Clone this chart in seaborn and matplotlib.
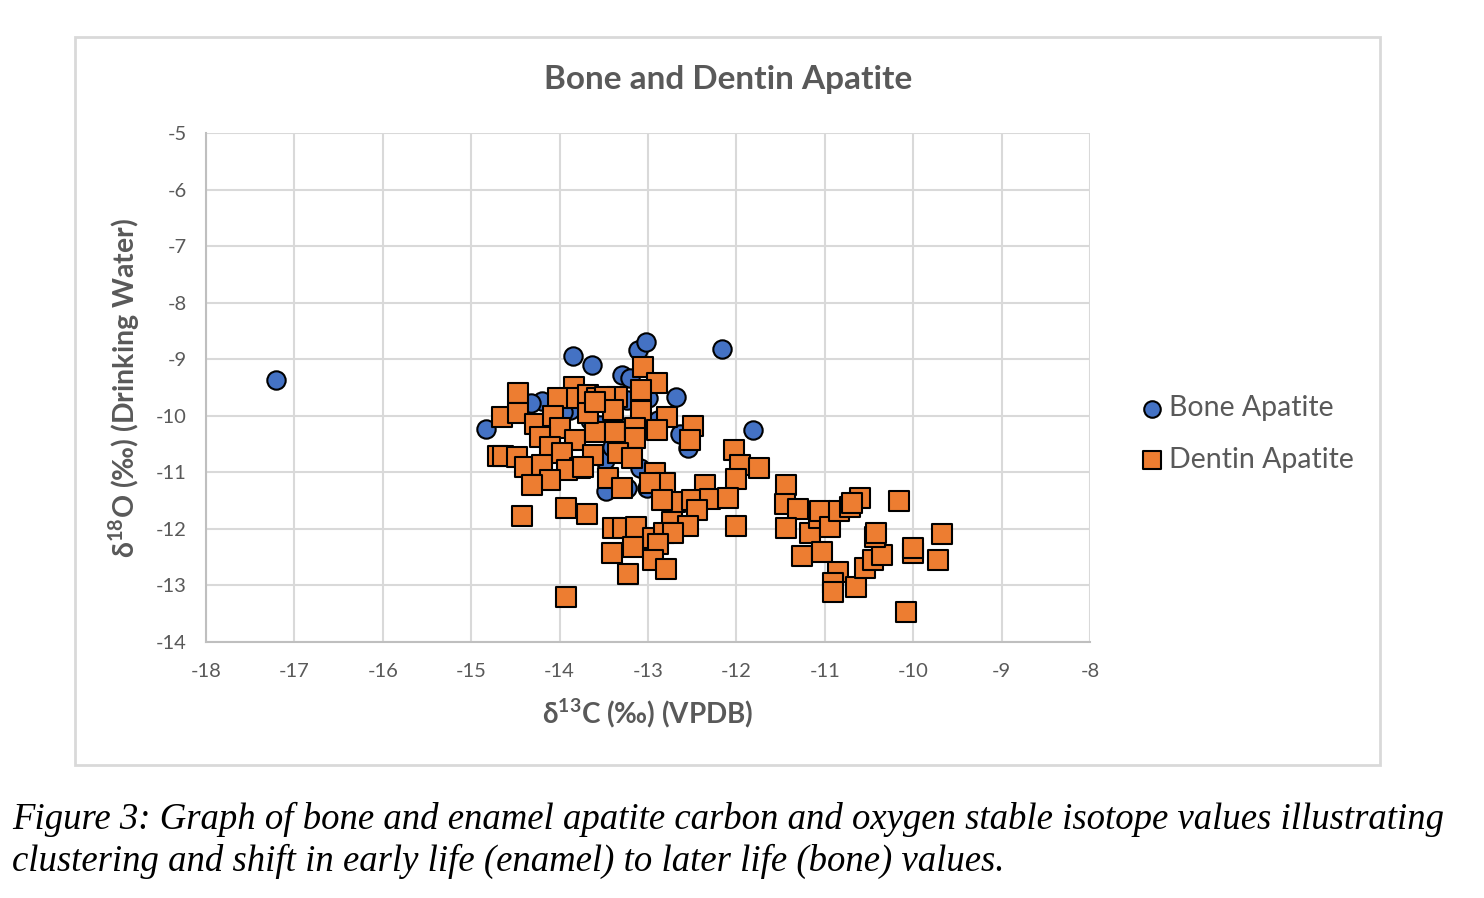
import numpy as np
import pandas as pd
import matplotlib
matplotlib.use("Agg")
import matplotlib.pyplot as plt
import seaborn as sns
from matplotlib.patches import Rectangle

"""Data read off the chart"""
bone_c = [-17.21, -14.83, -14.20, -14.32, -13.85, -13.63, -13.29, -13.20, -13.11, -13.02,
          -12.16, -12.68, -11.81, -12.64, -12.55, -13.49, -13.41, -13.09, -13.01, -13.48,
          -13.24, -13.00, -13.24, -13.88, -13.96, -13.66, -13.54, -12.89]
bone_o = [-9.37, -10.23, -9.74, -9.77, -8.94, -9.10, -9.28, -9.33, -8.84, -8.70,
          -8.82, -9.67, -10.25, -10.32, -10.57, -10.78, -10.55, -10.92, -11.28, -11.33,
          -11.28, -9.69, -9.72, -9.90, -9.93, -10.07, -10.16, -10.07]

dentin_c = [-13.06, -12.90, -13.08, -14.47, -13.84, -14.02, -13.80, -13.68, -13.58, -13.35,
            -13.49, -14.65, -14.47, -14.28, -14.07, -14.00, -13.83, -13.60, -13.37, -13.68,
            -13.40, -13.08, -12.79, -13.15, -12.90, -13.15, -12.49, -12.53, -14.22, -14.11,
            -14.70, -14.64, -14.48, -14.39, -14.20, -13.97, -13.62, -13.34, -13.18, -13.77,
            -13.92, -14.11, -14.31, -13.45, -13.29, -12.92, -12.81, -12.98, -12.36, -12.03,
            -11.96, -11.74, -12.00, -12.69, -12.84, -12.50, -12.30, -12.10, -12.45, -12.73,
            -12.55, -12.00, -13.40, -13.28, -13.14, -12.94, -12.82, -12.72, -13.41, -13.17,
            -12.89, -12.94, -12.80, -13.23, -13.93, -13.69, -14.43, -13.93, -13.60, -13.74,
            -11.44, -11.45, -11.30, -11.44, -11.26, -11.17, -11.07, -11.05, -10.94, -10.84,
            -10.72, -10.60, -10.69, -10.16, -11.03, -10.85, -10.91, -10.91, -10.65, -10.55,
            -10.45, -10.35, -10.43, -10.42, -10.00, -10.00, -9.72, -9.67, -10.08]
dentin_o = [-9.14, -9.42, -9.54, -9.60, -9.49, -9.69, -9.69, -9.63, -9.69, -9.67,
            -9.67, -10.02, -9.95, -10.15, -10.00, -10.22, -10.43, -10.29, -10.29, -9.95,
            -9.90, -9.92, -10.02, -10.22, -10.25, -10.39, -10.18, -10.43, -10.37, -10.55,
            -10.71, -10.71, -10.73, -10.91, -10.87, -10.66, -10.69, -10.66, -10.75, -10.92,
            -10.96, -11.14, -11.22, -11.10, -11.28, -11.01, -11.19, -11.19, -11.22, -10.60,
            -10.87, -10.92, -11.12, -11.52, -11.49, -11.49, -11.47, -11.45, -11.67, -11.88,
            -11.95, -11.95, -11.98, -11.98, -11.97, -12.16, -12.07, -12.07, -12.43, -12.32,
            -12.27, -12.55, -12.71, -12.80, -11.63, -11.74, -11.77, -13.20, -9.76, -10.91,
            -11.22, -11.56, -11.65, -11.98, -12.48, -12.07, -11.81, -11.68, -11.97, -11.68,
            -11.61, -11.45, -11.54, -11.51, -12.41, -12.76, -12.96, -13.12, -13.03, -12.69,
            -12.55, -12.46, -12.14, -12.07, -12.43, -12.34, -12.55, -12.09, -13.47]

x_ticks = list(range(-18, -7))
y_ticks = list(range(-14, -4))

bone = pd.DataFrame({'d13C': bone_c, 'd18O': bone_o})
dentin = pd.DataFrame({'d13C': dentin_c, 'd18O': dentin_o})

"""Style"""
sns.set_style("white")
plt.rcParams['font.family'] = ['Lato', 'DejaVu Sans']
plt.rcParams['axes.unicode_minus'] = False
plt.rcParams['mathtext.fontset'] = 'custom'
plt.rcParams['mathtext.rm'] = 'Lato'
plt.rcParams['mathtext.bf'] = 'Lato:bold'

text_grey = '#595959'

fig = plt.figure(figsize=(14.84, 8.98), dpi=100)
ax = fig.add_axes([206 / 1484, 1 - 642 / 898, (1090 - 206) / 1484, (642 - 133) / 898])

sns.scatterplot(data=bone, x='d13C', y='d18O', ax=ax, marker='o', s=175,
                color='#4472C4', edgecolor='black', linewidth=1.5,
                label='Bone Apatite', zorder=3)
sns.scatterplot(data=dentin, x='d13C', y='d18O', ax=ax, marker='s', s=190,
                color='#ED7D31', edgecolor='black', linewidth=1.5,
                label='Dentin Apatite', zorder=4)

ax.set_xlim(-18, -8)
ax.set_ylim(-14, -5)
ax.set_xticks(x_ticks)
ax.set_yticks(y_ticks)
ax.grid(True, color='#d9d9d9', linewidth=1.5, zorder=0)
ax.set_axisbelow(True)
for side in ['top', 'right']:
    ax.spines[side].set_visible(False)
ax.spines['left'].set_color('#bfbfbf')
ax.spines['bottom'].set_color('#bfbfbf')
ax.spines['left'].set_linewidth(1.5)
ax.spines['bottom'].set_linewidth(1.5)
ax.tick_params(axis='both', length=0, labelsize=14.5, labelcolor=text_grey)
ax.tick_params(axis='x', pad=15)
ax.tick_params(axis='y', pad=14)

ax.set_xlabel(r'δ$^{\mathbf{13}}$C (‰) (VPDB)', fontsize=20, fontweight='bold',
              color=text_grey, labelpad=12)
ax.set_ylabel(r'δ$^{\mathbf{18}}$O (‰) (Drinking Water)', fontsize=20.5, fontweight='bold',
              color=text_grey, labelpad=10)

fig.text(728 / 1484, 1 - 80 / 898, 'Bone and Dentin Apatite', ha='center', va='center',
         fontsize=24, fontweight='bold', color=text_grey)

leg = ax.legend(loc='center left', bbox_to_anchor=(1138 / 1484, 1 - 434 / 898),
                bbox_transform=fig.transFigure, frameon=False,
                fontsize=20.5, handlelength=1.0, handletextpad=0.1, labelspacing=0.9,
                markerscale=0.9, borderaxespad=0, borderpad=0)
for t in leg.get_texts():
    t.set_color(text_grey)

# outer chart frame
fig.patches.append(Rectangle((75 / 1484, 1 - 765 / 898), (1380 - 75) / 1484, (765 - 37) / 898,
                             transform=fig.transFigure, fill=False,
                             edgecolor='#d9d9d9', linewidth=2))

caption = ['Figure 3: Graph of bone and enamel apatite carbon and oxygen stable isotope values illustrating',
           'clustering and shift in early life (enamel) to later life (bone) values.']
for i, line in enumerate(caption):
    fig.text(12 / 1484, 1 - (829 + 42 * i) / 898, line, ha='left', va='baseline',
             fontsize=26.5, fontstyle='italic', family='Liberation Serif', color='black')

plt.savefig('out.png', dpi=100)
